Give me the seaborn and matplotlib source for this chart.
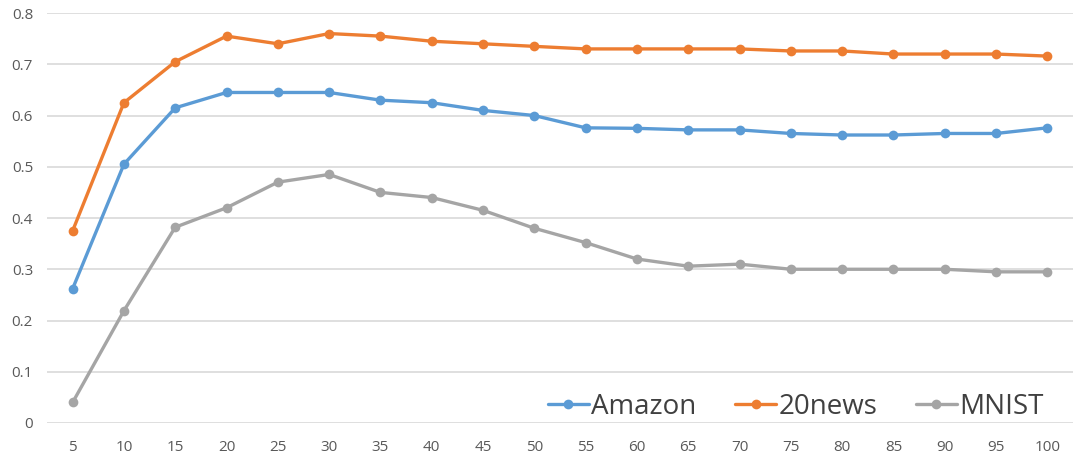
import numpy as np
import pandas as pd
import seaborn as sns
import matplotlib.pyplot as plt

xVals = [5, 10, 15, 20, 25, 30, 35, 40, 45, 50, 55, 60, 65, 70, 75, 80, 85, 90, 95, 100]
amazon = [0.262, 0.505, 0.615, 0.645, 0.645, 0.645, 0.630, 0.625, 0.610, 0.600,
          0.576, 0.575, 0.572, 0.572, 0.565, 0.562, 0.562, 0.565, 0.565, 0.576]
news20 = [0.375, 0.625, 0.705, 0.755, 0.740, 0.760, 0.755, 0.745, 0.740, 0.735,
          0.730, 0.730, 0.730, 0.730, 0.726, 0.726, 0.720, 0.720, 0.720, 0.716]
mnist = [0.040, 0.219, 0.382, 0.420, 0.470, 0.485, 0.450, 0.440, 0.415, 0.380,
         0.352, 0.320, 0.306, 0.310, 0.300, 0.300, 0.300, 0.300, 0.295, 0.295]
seriesNames = ["Amazon", "20news", "MNIST"]
colors = ["#5B9BD5", "#ED7D31", "#A5A5A5"]
yTicks = [0, 0.1, 0.2, 0.3, 0.4, 0.5, 0.6, 0.7, 0.8]

sns.set_style("white")
plt.rcParams['font.family'] = ['Open Sans', 'DejaVu Sans']

df = pd.DataFrame({"x": xVals * 3,
                   "value": amazon + news20 + mnist,
                   "series": np.repeat(seriesNames, len(xVals))})

fig = plt.figure(figsize=(10.8, 4.66), dpi=100)
ax = fig.add_axes([0.0435, 0.0923, 0.950, 0.8797])

sns.lineplot(data=df, x="x", y="value", hue="series", hue_order=seriesNames,
             palette=colors, marker="o", markersize=7, markeredgewidth=0,
             linewidth=2.4, ax=ax)

ax.set_xlim(2.5, 102.5)
ax.set_ylim(0, 0.8)
ax.set_xticks(xVals)
ax.set_xticklabels([str(v) for v in xVals])
ax.set_yticks(yTicks)
ax.set_yticklabels(["0" if v == 0 else f"{v:.1f}" for v in yTicks])
ax.tick_params(axis="both", length=0, labelsize=11, labelcolor="#595959")
ax.tick_params(axis="x", pad=12)
ax.tick_params(axis="y", pad=10)
ax.grid(axis="y", color="#D9D9D9", linewidth=1.2)
ax.set_axisbelow(True)
for s in ax.spines.values():
    s.set_visible(False)
ax.set_xlabel("")
ax.set_ylabel("")

handles, labels = ax.get_legend_handles_labels()
ax.legend(handles, labels, ncol=3, frameon=False, loc="center",
          bbox_to_anchor=(0.73, 0.04), fontsize=20, handlelength=1.45,
          columnspacing=1.4, handletextpad=0.1, labelcolor="#404040")

fig.savefig("out.png", dpi=100)
